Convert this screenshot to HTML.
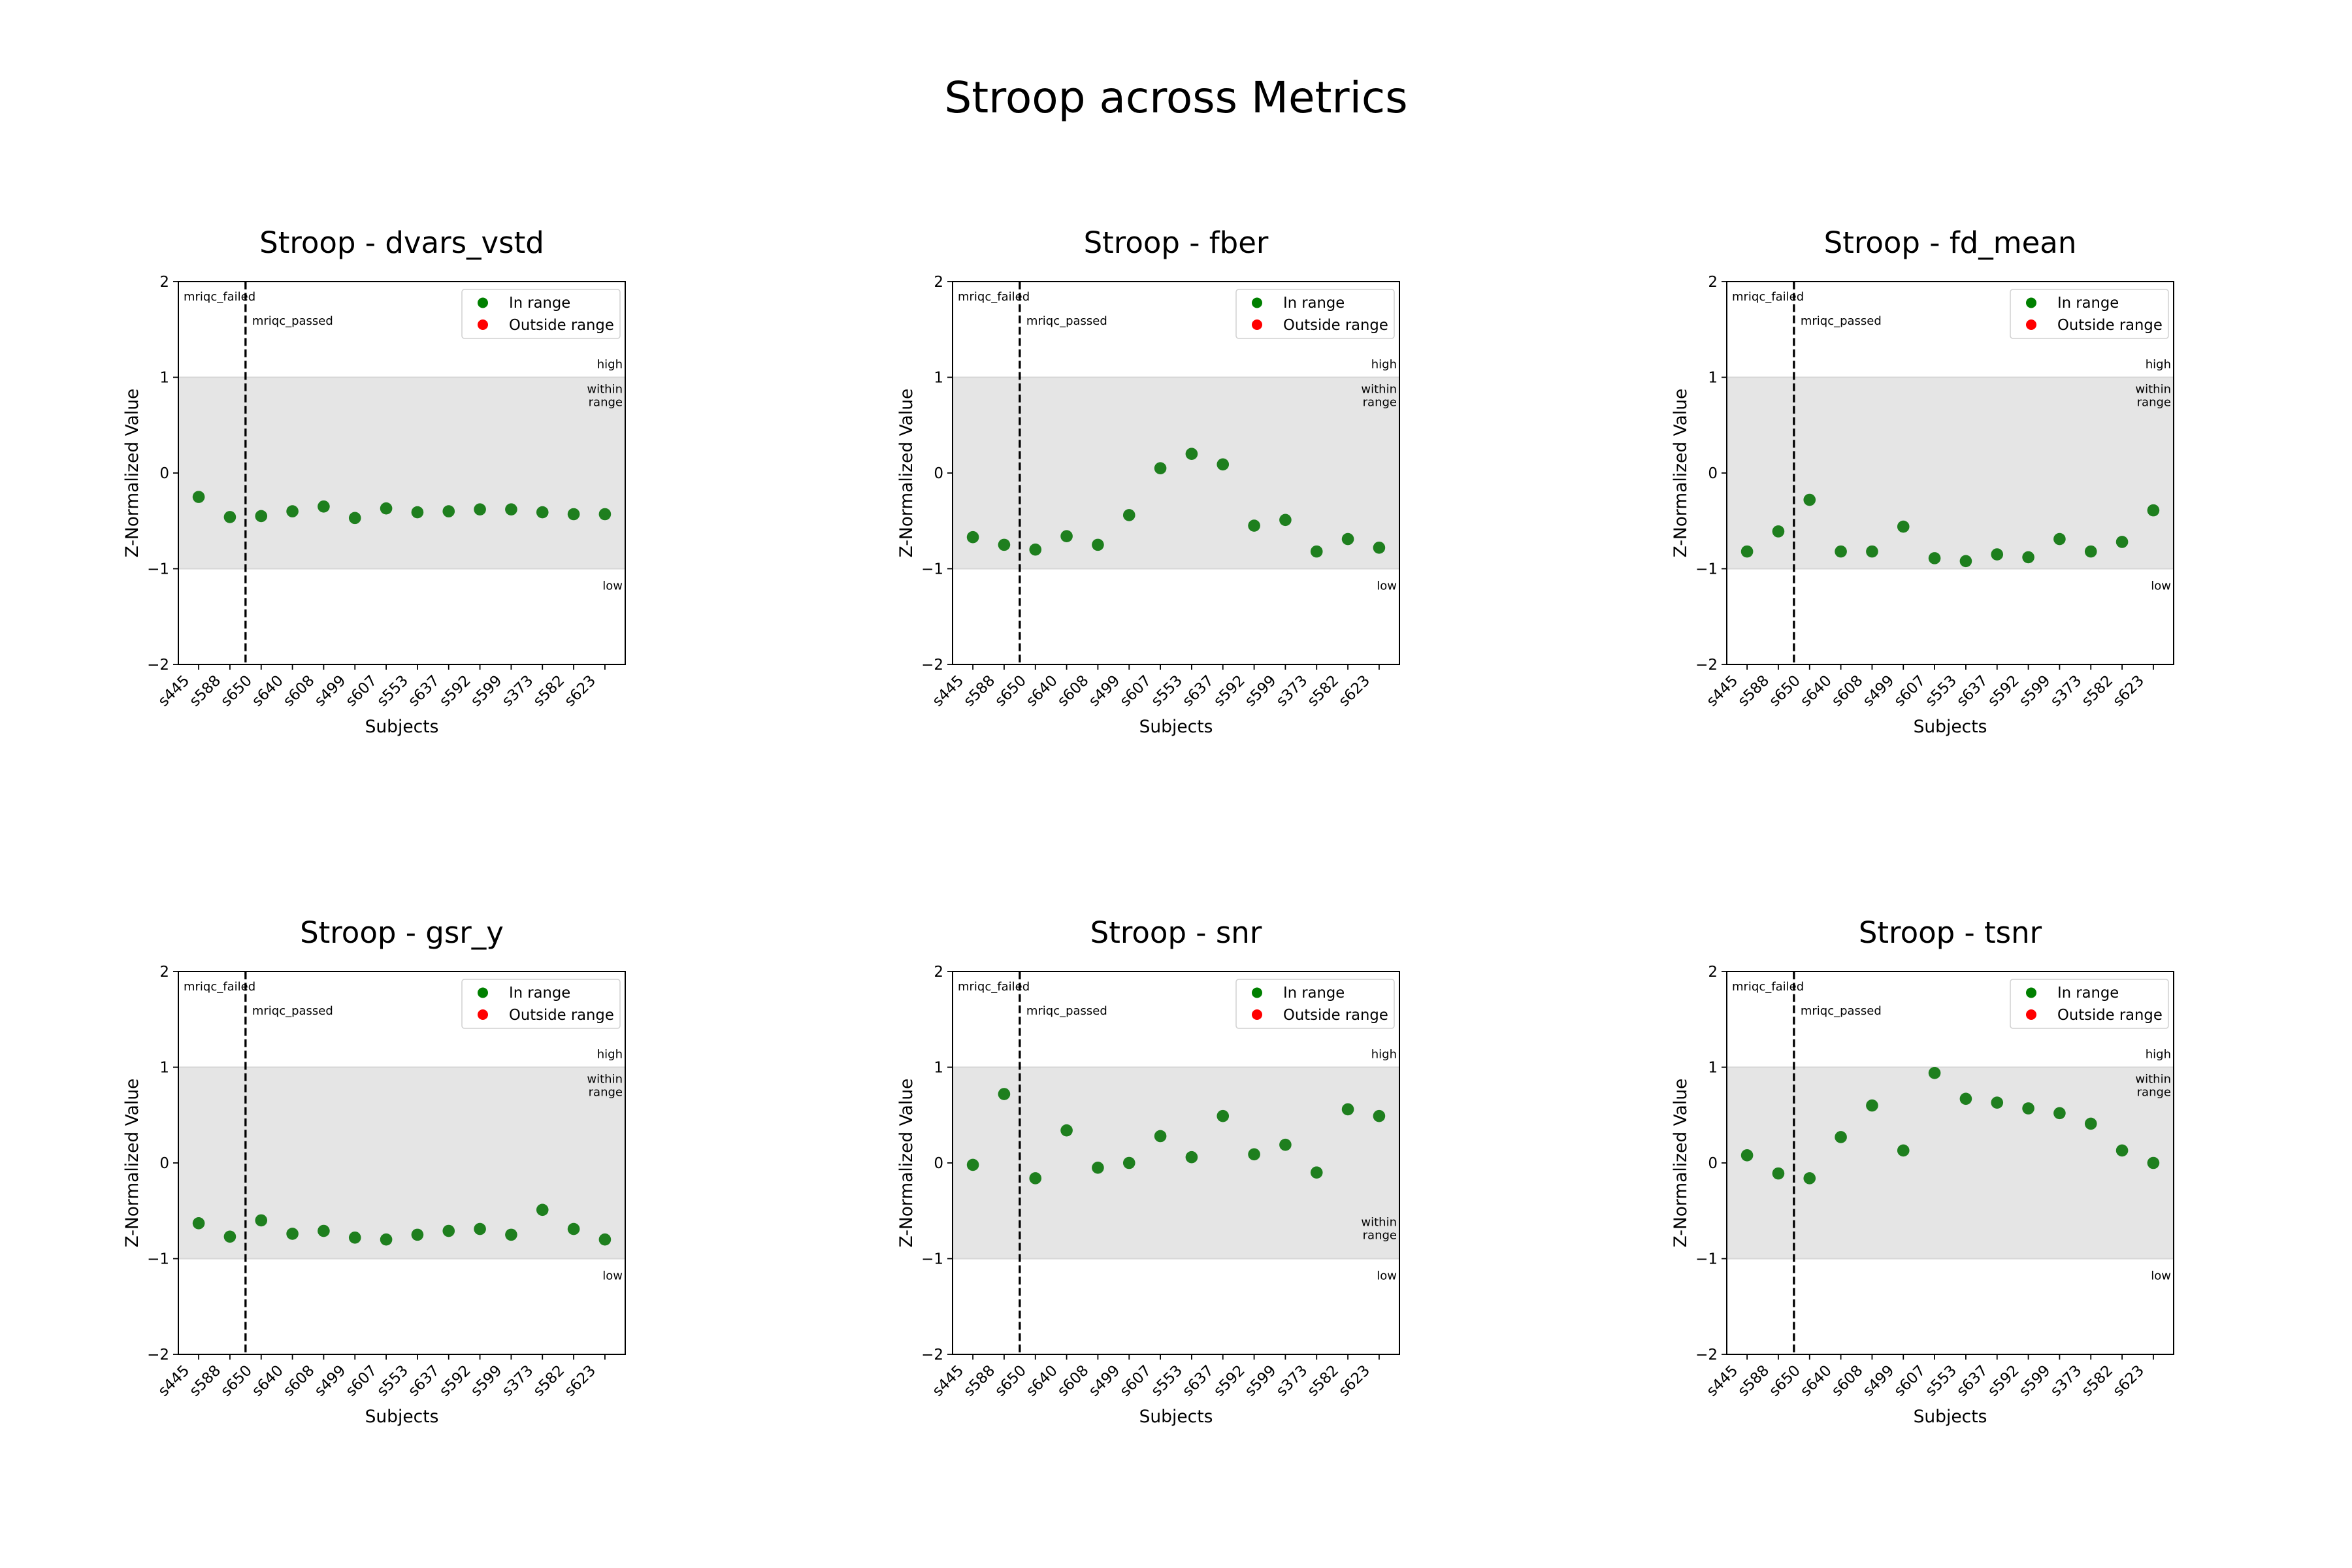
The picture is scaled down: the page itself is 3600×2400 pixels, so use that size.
<!DOCTYPE html>
<html><head><meta charset="utf-8"><title>Stroop across Metrics</title>
<style>
html,body{margin:0;padding:0;background:#fff;}
svg{display:block;font-family:"DejaVu Sans","Liberation Sans",sans-serif;}
</style></head>
<body>
<svg id="fig" width="3600" height="2400" viewBox="0 0 3600 2400" xmlns="http://www.w3.org/2000/svg">
<rect x="0" y="0" width="3600" height="2400" fill="#fff"/>
<text x="1800" y="172" font-size="66" text-anchor="middle" fill="#000">Stroop across Metrics</text>
</svg>
<script>
const subjects = ["s445","s588","s650","s640","s608","s499","s607","s553","s637","s592","s599","s373","s582","s623"];
const metricNames = ["dvars_vstd","fber","fd_mean","gsr_y","snr","tsnr"];
const dvarsValues = [-0.25,-0.46,-0.45,-0.40,-0.35,-0.47,-0.37,-0.41,-0.40,-0.38,-0.38,-0.41,-0.43,-0.43];
const fberValues = [-0.67,-0.75,-0.80,-0.66,-0.75,-0.44,0.05,0.20,0.09,-0.55,-0.49,-0.82,-0.69,-0.78];
const fdMeanValues = [-0.82,-0.61,-0.28,-0.82,-0.82,-0.56,-0.89,-0.92,-0.85,-0.88,-0.69,-0.82,-0.72,-0.39];
const gsrValues = [-0.63,-0.77,-0.60,-0.74,-0.71,-0.78,-0.80,-0.75,-0.71,-0.69,-0.75,-0.49,-0.69,-0.80];
const snrValues = [-0.02,0.72,-0.16,0.34,-0.05,0.0,0.28,0.06,0.49,0.09,0.19,-0.10,0.56,0.49];
const tsnrValues = [0.08,-0.11,-0.16,0.27,0.60,0.13,0.94,0.67,0.63,0.57,0.52,0.41,0.13,0.0];
const yTicks = [-2,-1,0,1,2];
const yTickLabels = ["\u22122","\u22121","0","1","2"];
const passBoundary = 1.5;
const rangeLow = -1, rangeHigh = 1;

const allValues = [dvarsValues,fberValues,fdMeanValues,gsrValues,snrValues,tsnrValues];
const svg = document.getElementById('fig');
const NS = 'http://www.w3.org/2000/svg';
function mk(tag, attrs, parent, txt){
  const e = document.createElementNS(NS, tag);
  for (const k in attrs) e.setAttribute(k, attrs[k]);
  if (txt !== undefined) e.textContent = txt;
  (parent||svg).appendChild(e);
  return e;
}
const colLeft = [273,1458,2643], rowTop = [431,1487];
const W = 684, H = 586;
const xMin = -0.65, xMax = subjects.length - 1 + 0.65, yMin = -2, yMax = 2;

for (let p = 0; p < 6; p++) {
  const L = colLeft[p%3], T = rowTop[Math.floor(p/3)];
  const sx = v => L + (v - xMin) / (xMax - xMin) * W;
  const sy = v => T + (yMax - v) / (yMax - yMin) * H;
  const R = L + W, B = T + H;
  const g = mk('g', {});
  
  
  const band = mk('rect', {x:L, y:sy(rangeHigh), width:W, height:sy(rangeLow)-sy(rangeHigh), fill:'#e5e5e5'}, g);
  
  
  mk('line',{x1:L,x2:R,y1:sy(rangeHigh),y2:sy(rangeHigh),stroke:'#d6d6d6','stroke-width':2},g);
  mk('line',{x1:L,x2:R,y1:sy(rangeLow),y2:sy(rangeLow),stroke:'#d6d6d6','stroke-width':2},g);
  // dashed boundary
  const dl = mk('line',{x1:sx(passBoundary),x2:sx(passBoundary),y1:T,y2:B,stroke:'#000','stroke-width':3.3,'stroke-dasharray':'12 5.3'},g);
  
  
  const t1 = mk('text',{x:L+8,y:T+29,'font-size':18},g,'mriqc_failed');
  
  
  const t2 = mk('text',{x:sx(passBoundary)+10,y:T+66,'font-size':18},g,'mriqc_passed');
  
  
  // range labels
  const hi = mk('text',{x:R-4,y:sy(rangeHigh)-14,'font-size':18,'text-anchor':'end'},g,'high');
  
  
  const lo = mk('text',{x:R-4,y:sy(rangeLow)+32,'font-size':18,'text-anchor':'end'},g,'low');
  
  
  let wy = sy(rangeHigh)+24;
  if (metricNames[p] === 'snr') wy = sy(rangeLow)-50;
  const w1 = mk('text',{x:R-4,y:wy,'font-size':18,'text-anchor':'end'},g,'within');
  
  
  const w2 = mk('text',{x:R-4,y:wy+20,'font-size':18,'text-anchor':'end'},g,'range');
  
  
  // points
  const vals = allValues[p];
  for (let i = 0; i < subjects.length; i++) {
    const inR = vals[i] >= rangeLow && vals[i] <= rangeHigh;
    const c = mk('circle',{cx:sx(i),cy:sy(vals[i]),r:9.3,fill:inR?'#1e7f1e':'#ff0000'},g);
    
    
  }
  // frame
  const fr = mk('rect',{x:L,y:T,width:W,height:H,fill:'none',stroke:'#000','stroke-width':2},g);
  
  
  // y ticks
  for (let k = 0; k < yTicks.length; k++) {
    const y = sy(yTicks[k]);
    mk('line',{x1:L-8,x2:L,y1:y,y2:y,stroke:'#000','stroke-width':1.8},g);
    const tl = mk('text',{x:L-14,y:y+8,'font-size':23,'text-anchor':'end'},g,yTickLabels[k]);
    
    
  }
  // x ticks
  for (let i = 0; i < subjects.length; i++) {
    const x = sx(i);
    mk('line',{x1:x,x2:x,y1:B,y2:B+8,stroke:'#000','stroke-width':1.8},g);
    const px = x - 13, py = B + 26;
    const tl = mk('text',{x:px,y:py,'font-size':23,'text-anchor':'end',transform:'rotate(-45 '+px+' '+py+')'},g,subjects[i]);
    
    
  }
  // titles
  const at = mk('text',{x:L+W/2,y:T-44,'font-size':45,'text-anchor':'middle'},g,'Stroop - ' + metricNames[p]);
  
  
  const xl = mk('text',{x:L+W/2,y:B+104,'font-size':26.5,'text-anchor':'middle'},g,'Subjects');
  
  
  const ylx = L-62, yly = T+H/2;
  const yl = mk('text',{x:ylx,y:yly,'font-size':26.5,'text-anchor':'middle',transform:'rotate(-90 '+ylx+' '+yly+')'},g,'Z-Normalized Value');
  
  
  // legend
  const lg = mk('g',{},g);
  
  
  mk('rect',{x:R-250,y:T+12,width:242,height:75,rx:4,fill:'#fff','fill-opacity':0.8,stroke:'#d0d0d0','stroke-width':1.5},lg);
  const m1 = mk('circle',{cx:R-218,cy:T+32.5,r:8,fill:'#008000'},lg);
  
  
  const e1 = mk('text',{x:R-178,y:T+40,'font-size':22.7},lg,'In range');
  
  
  const m2 = mk('circle',{cx:R-218,cy:T+66,r:8,fill:'#ff0000'},lg);
  
  
  const e2 = mk('text',{x:R-178,y:T+74,'font-size':22.7},lg,'Outside range');
  
  
}
</script>
</body></html>
